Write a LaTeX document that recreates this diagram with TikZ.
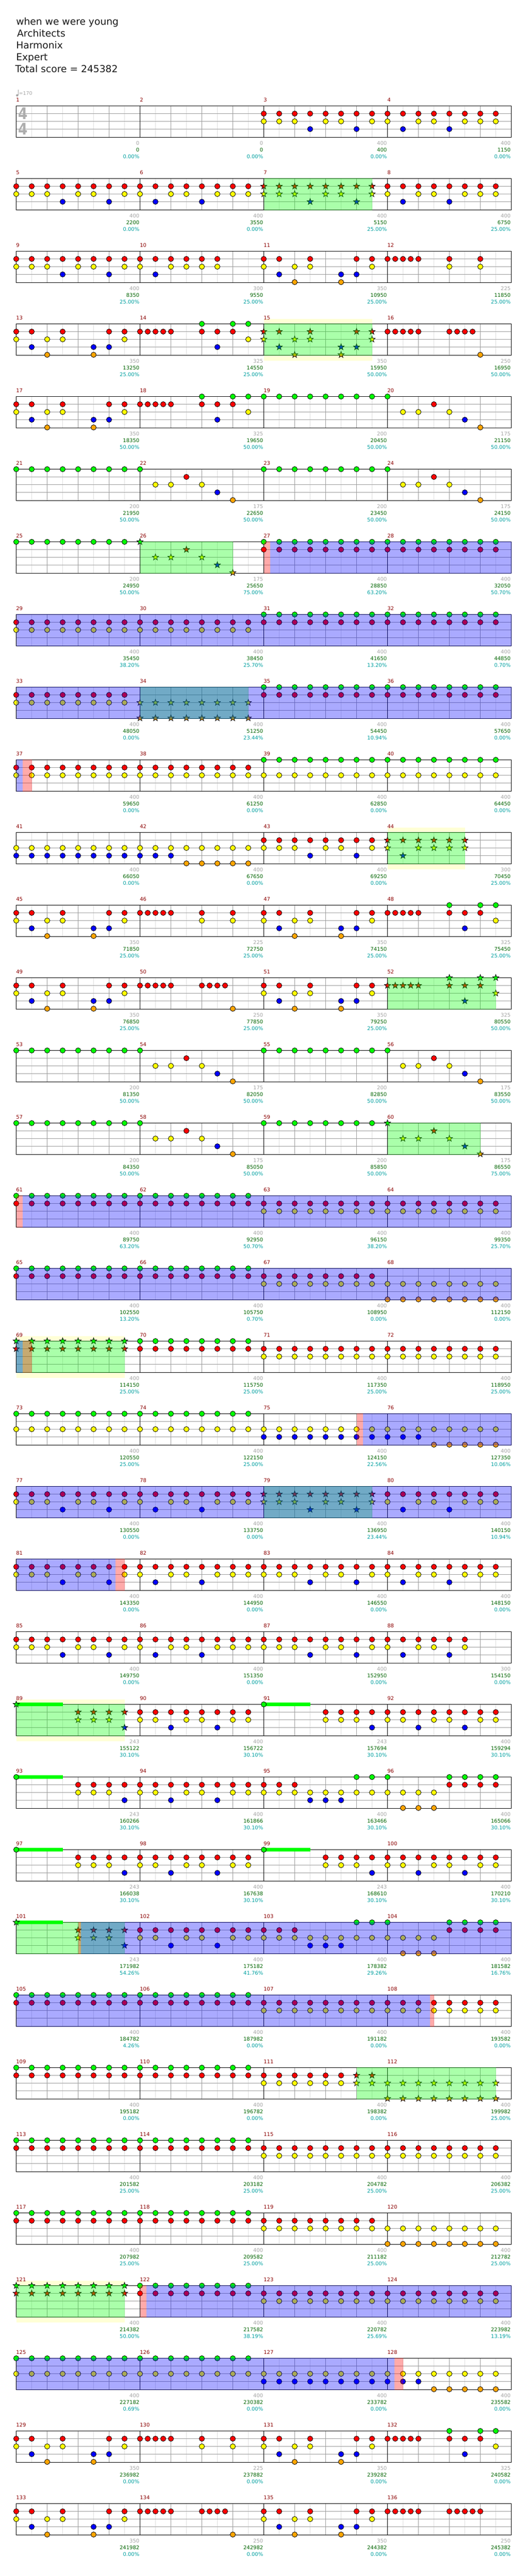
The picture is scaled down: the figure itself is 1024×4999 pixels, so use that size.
\documentclass[tikz,border=0pt]{standalone}
\usepackage{fontspec}
\setmainfont{DejaVu Sans}
\definecolor{noteG}{RGB}{0,255,0}
\definecolor{noteR}{RGB}{255,0,0}
\definecolor{noteY}{RGB}{255,255,0}
\definecolor{noteB}{RGB}{0,0,255}
\definecolor{noteO}{RGB}{255,165,0}
\definecolor{gridA}{RGB}{155,155,155}
\definecolor{gridB}{RGB}{222,222,222}
\definecolor{bandY}{RGB}{255,255,214}
\definecolor{txtM}{RGB}{139,0,0}
\definecolor{txtG}{RGB}{165,165,165}
\definecolor{txtS}{RGB}{0,100,0}
\definecolor{txtP}{RGB}{0,160,160}
\tikzset{
  titletext/.style={anchor=base west,inner sep=0,font=\fontsize{18.7}{20}\selectfont,text=black!90},
  measlabel/.style={anchor=west,inner sep=0,font=\fontsize{10}{12}\selectfont,text=txtM},
  valgray/.style={anchor=east,inner sep=0,font=\fontsize{10}{12}\selectfont,text=txtG},
  valscore/.style={anchor=east,inner sep=0,font=\fontsize{10}{12}\selectfont,text=txtS},
  valpct/.style={anchor=east,inner sep=0,font=\fontsize{10}{12}\selectfont,text=txtP},
  notemark/.style={draw=black,line width=.8pt},
  gridmajor/.style={draw=gridA,line width=1pt},
  gridminor/.style={draw=gridB,line width=1pt},
  staveframe/.style={draw=black,line width=1pt},
  overlay/.style={fill opacity=.333},
  timesig/.style={inner sep=0,xscale=.85,transform shape,font=\fontsize{31}{32}\bfseries\selectfont,text=black!32},
}
% ---- positions
\newcommand\setrow[1]{\pgfmathsetmacro\Y{205.5+141*(#1)}\def\rowk{#1}\def\off{0}}
\newcommand\band[2]{\fill[bandY] ({31.5+#1},{\Y-10}) rectangle ({31.5+#2},{\Y+71});}
\newcommand\stave{%
  \fill[white] (31.5,\Y) rectangle (991.5,{\Y+61});
  \foreach\uu in {2,6,...,62}{\draw[gridminor] ({31.5+15*\uu},\Y) -- ({31.5+15*\uu},{\Y+61});}
  \foreach\uu in {4,8,12,20,24,28,36,40,44,52,56,60}{\draw[gridmajor] ({31.5+15*\uu},\Y) -- ({31.5+15*\uu},{\Y+61});}
  \foreach\dy in {15,30,45}{\draw[gridmajor] (31.5,{\Y+\dy}) -- (991.5,{\Y+\dy});}
  \foreach\uu in {16,32,48}{\draw[draw=black,line width=1pt] ({31.5+15*\uu},\Y) -- ({31.5+15*\uu},{\Y+61});}
  \draw[staveframe] (31.5,\Y) rectangle (991.5,{\Y+61});
}
\newcommand\ov[3]{\fill[#1,overlay] ({31.5+#2},{\Y-.5}) rectangle ({31.5+#3},{\Y+61.5});}
\newcommand\susbar[1]{\fill[noteG] ({31.5+15*#1},{\Y-3.2}) rectangle ({31.5+15*#1+90},{\Y+3.2});}
\newcommand\markcirc[2]{\draw[notemark,fill=#1] #2 circle (5.1pt);}
\newcommand\markstar[2]{\draw[notemark,fill=#1,line join=miter,miter limit=3] #2 +(90:6.3pt) -- +(126:2.6pt) -- +(162:6.3pt) -- +(198:2.6pt) -- +(234:6.3pt) -- +(270:2.6pt) -- +(306:6.3pt) -- +(342:2.6pt) -- +(18:6.3pt) -- +(54:2.6pt) -- cycle;}
\let\marker\markcirc
\newcommand\cir{\let\marker\markcirc}
\newcommand\sta{\let\marker\markstar}
\newcommand\mk[3]{\foreach\uu in {#3}{\marker{#1}{({31.5+15*(\uu+\off)},{\Y+#2})}}}
\newcommand\nG[1]{\mk{noteG}{0}{#1}}
\newcommand\nR[1]{\mk{noteR}{15}{#1}}
\newcommand\nY[1]{\mk{noteY}{30}{#1}}
\newcommand\nB[1]{\mk{noteB}{45}{#1}}
\newcommand\nO[1]{\mk{noteO}{60}{#1}}
% ---- repeated figures, #1 = offset in sixteenths
\newcommand\patAa[1]{\def\off{#1}\nR{0,2,...,14}\nY{0,2,4,8,10,14}\nB{6,12}\def\off{0}}
\newcommand\patAb[1]{\def\off{#1}\nR{0,2,...,14}\nY{0,4,6,10,12,14}\nB{2,8}\def\off{0}}
\newcommand\patA[1]{\patAa{#1}\pgfmathtruncatemacro\tmpo{#1+16}\patAb{\tmpo}}
\newcommand\patB[1]{\def\off{#1}\nR{0,2,6,12,14}\nY{0,4,6,14}\nB{2,10,12}\nO{4,10}\def\off{0}}
\newcommand\patC[1]{\def\off{#1}\nY{2,4,8}\nR{6}\nB{10}\nO{12}\def\off{0}}
\newcommand\patD[1]{\def\off{#1}\nR{0,1,2,3,4,8,10,12}\nG{8,12,14}\nY{14}\nB{10}\def\off{0}}
\newcommand\patE[1]{\def\off{#1}\nR{0,1,2,3,4,8,12}\nY{8,12}\def\off{0}}
\newcommand\patF[1]{\def\off{#1}\nR{0,1,2,3,4,8,9,10,11}\nO{12}\def\off{0}}
% ---- texts of one measure: column, grey, score, percent
\newcommand\Val[4]{%
  \pgfmathtruncatemacro\mnum{4*\rowk+#1+1}%
  \node[measlabel] (m\mnum) at ({31.1+240*#1},{\Y-11.3}) {\mnum};
  \node[valgray] (g\mnum) at ({31.5+240*(#1+1)-1},{\Y+72.3}) {#2};
  \node[valscore] (s\mnum) at ({31.5+240*(#1+1)-1},{\Y+85.3}) {#3};
  \node[valpct] (p\mnum) at ({31.5+240*(#1+1)-1},{\Y+98.3}) {#4\%};
}
\begin{document}
\begin{tikzpicture}[x=1pt,y=-1pt]
\useasboundingbox (0,0) rectangle (1024,4999);
\fill[white] (0,0) rectangle (1024,4999);
% title
\node[titletext] (t1) at (31.1,49) {when we were young};
\node[titletext] (t2) at (33,72) {Architects};
\node[titletext] (t3) at (31.1,95) {Harmonix};
\node[titletext] (t4) at (31.1,118) {Expert};
\node[titletext] (t5) at (29.5,141) {Total score = 245382};
% tempo
\fill[txtG] (33.3,185) circle (2.2pt);
\draw[txtG,line width=.8pt] (35,185) -- (35,174.5);
\node[anchor=west,inner sep=0,font=\fontsize{9.5}{12}\selectfont,text=txtG] (tempo) at (36.5,181) {=170};

% row 0
\setrow{0}\stave
\node[timesig] (ts1) at (44.5,220.5) {4};
\node[timesig] (ts2) at (44.5,250.5) {4};
\patA{32}
\Val{0}{0}{0}{0.00}\Val{1}{0}{0}{0.00}\Val{2}{400}{400}{0.00}\Val{3}{400}{1150}{0.00}
% row 1
\setrow{1}\stave
\patA{0}\sta\patAa{32}\cir\patAb{48}
\ov{noteG}{480}{690}
\Val{0}{400}{2200}{0.00}\Val{1}{400}{3550}{0.00}\Val{2}{400}{5150}{25.00}\Val{3}{400}{6750}{25.00}
% row 2
\setrow{2}\stave
\patAa{0}\def\off{16}\nR{0,2,4,6,8,10}\nY{0,4,6,8,10}\nB{2}\def\off{0}\patB{32}\def\off{48}\nR{0,1,2,3,4,8,12}\nY{8,12}\def\off{0}
\Val{0}{400}{8350}{25.00}\Val{1}{300}{9550}{25.00}\Val{2}{350}{10950}{25.00}\Val{3}{225}{11850}{25.00}
% row 3
\setrow{3}\band{480}{690}\stave
\patB{0}\patD{16}\sta\patB{32}\cir
\def\off{48}\nR{0,1,2,3,4,8,9,10,11}\nO{12}\def\off{0}
\ov{noteG}{480}{690}
\Val{0}{350}{13250}{25.00}\Val{1}{325}{14550}{25.00}\Val{2}{350}{15950}{50.00}\Val{3}{250}{16950}{50.00}
% row 4
\setrow{4}\stave
\patB{0}\patD{16}\nG{32,34,...,48}\patC{48}
\Val{0}{350}{18350}{50.00}\Val{1}{325}{19650}{50.00}\Val{2}{200}{20450}{50.00}\Val{3}{175}{21150}{50.00}
% row 5
\setrow{5}\stave
\nG{0,2,...,16}\patC{16}\nG{32,34,...,48}\patC{48}
\Val{0}{200}{21950}{50.00}\Val{1}{175}{22650}{50.00}\Val{2}{200}{23450}{50.00}\Val{3}{175}{24150}{50.00}
% row 6
\setrow{6}\stave
\nG{0,2,...,14}\sta\nG{16}\patC{16}\cir\nG{32,34,...,62}\nR{32,34,...,62}
\ov{noteG}{240}{420}\ov{noteR}{480}{492.5}\ov{noteB}{492.5}{960}
\Val{0}{200}{24950}{50.00}\Val{1}{175}{25650}{75.00}\Val{2}{400}{28850}{63.20}\Val{3}{400}{32050}{50.70}
% row 7
\setrow{7}\stave
\nR{0,2,...,62}\nY{0,2,...,30}\nG{32,34,...,62}
\ov{noteB}{0}{960}
\Val{0}{400}{35450}{38.20}\Val{1}{400}{38450}{25.70}\Val{2}{400}{41650}{13.20}\Val{3}{400}{44850}{0.70}
% row 8
\setrow{8}\stave
\nR{0,2,...,14}\nY{0,2,...,14}\sta\nY{16,18,...,30}\nO{16,18,...,30}\cir\nG{32,34,...,62}\nR{32,34,...,62}
\ov{noteG}{240}{450}\ov{noteB}{0}{960}
\Val{0}{400}{48050}{0.00}\Val{1}{400}{51250}{23.44}\Val{2}{400}{54450}{10.94}\Val{3}{400}{57650}{0.00}
% row 9
\setrow{9}\stave
\nR{0,2,...,30}\nY{0,2,...,62}\nG{32,34,...,62}
\ov{noteB}{0}{12.5}\ov{noteR}{12.5}{30}
\Val{0}{400}{59650}{0.00}\Val{1}{400}{61250}{0.00}\Val{2}{400}{62850}{0.00}\Val{3}{400}{64450}{0.00}
% row 10
\setrow{10}\band{720}{870}\stave
\nY{0,2,...,30}\nB{0,2,...,20}\nO{22,24,...,30}\patAa{32}
\sta\nR{48,50,...,58}\nY{48,52,54,56,58}\nB{50}\cir
\ov{noteG}{720}{870}
\Val{0}{400}{66050}{0.00}\Val{1}{400}{67650}{0.00}\Val{2}{400}{69250}{0.00}\Val{3}{300}{70450}{25.00}
% row 11
\setrow{11}\stave
\patB{0}\patE{16}\patB{32}\patD{48}
\Val{0}{350}{71850}{25.00}\Val{1}{225}{72750}{25.00}\Val{2}{350}{74150}{25.00}\Val{3}{325}{75450}{25.00}
% row 12
\setrow{12}\stave
\patB{0}\patF{16}\patB{32}\sta\patD{48}\cir
\ov{noteG}{720}{930}
\Val{0}{350}{76850}{25.00}\Val{1}{250}{77850}{25.00}\Val{2}{350}{79250}{25.00}\Val{3}{325}{80550}{50.00}
% row 13
\setrow{13}\stave
\nG{0,2,...,16}\patC{16}\nG{32,34,...,48}\patC{48}
\Val{0}{200}{81350}{50.00}\Val{1}{175}{82050}{50.00}\Val{2}{200}{82850}{50.00}\Val{3}{175}{83550}{50.00}
% row 14
\setrow{14}\stave
\nG{0,2,...,16}\patC{16}\nG{32,34,...,46}\sta\nG{48}\patC{48}\cir
\ov{noteG}{720}{900}
\Val{0}{200}{84350}{50.00}\Val{1}{175}{85050}{50.00}\Val{2}{200}{85850}{50.00}\Val{3}{175}{86550}{75.00}
% row 15
\setrow{15}\stave
\nG{0,2,...,30}\nR{0,2,...,62}\nY{32,34,...,62}
\ov{noteR}{0}{12.5}\ov{noteB}{12.5}{960}
\Val{0}{400}{89750}{63.20}\Val{1}{400}{92950}{50.70}\Val{2}{400}{96150}{38.20}\Val{3}{400}{99350}{25.70}
% row 16
\setrow{16}\stave
\nG{0,2,...,30}\nR{0,2,...,46}\nY{32,34,...,62}\nO{48,50,...,62}
\ov{noteB}{0}{960}
\Val{0}{400}{102550}{13.20}\Val{1}{400}{105750}{0.70}\Val{2}{400}{108950}{0.00}\Val{3}{400}{112150}{0.00}
% row 17
\setrow{17}\band{0}{210}\stave
\sta\nG{0,2,...,14}\nR{0,2,...,14}\cir\nG{16,18,...,30}\nR{16,18,...,62}\nY{32,34,...,62}
\ov{noteG}{0}{210}\ov{noteB}{0}{12.5}\ov{noteR}{12.5}{30}
\Val{0}{400}{114150}{25.00}\Val{1}{400}{115750}{25.00}\Val{2}{400}{117350}{25.00}\Val{3}{400}{118950}{25.00}
% row 18
\setrow{18}\stave
\nG{0,2,...,30}\nY{0,2,...,62}\nB{32,34,...,52}\nO{54,56,...,62}
\ov{noteR}{660}{672.5}\ov{noteB}{672.5}{960}
\Val{0}{400}{120550}{25.00}\Val{1}{400}{122150}{25.00}\Val{2}{400}{124150}{22.56}\Val{3}{400}{127350}{10.06}
% row 19
\setrow{19}\stave
\patA{0}\sta\patAa{32}\cir\patAb{48}
\ov{noteG}{480}{690}\ov{noteB}{0}{960}
\Val{0}{400}{130550}{0.00}\Val{1}{400}{133750}{0.00}\Val{2}{400}{136950}{23.44}\Val{3}{400}{140150}{10.94}
% row 20
\setrow{20}\stave
\patA{0}\patA{32}
\ov{noteB}{0}{192.5}\ov{noteR}{192.5}{210}
\Val{0}{400}{143350}{0.00}\Val{1}{400}{144950}{0.00}\Val{2}{400}{146550}{0.00}\Val{3}{400}{148150}{0.00}
% row 21
\setrow{21}\stave
\patA{0}\patAa{32}\def\off{48}\nR{0,2,...,10}\nY{0,4,6,10}\nB{2,8}\def\off{0}
\Val{0}{400}{149750}{0.00}\Val{1}{400}{151350}{0.00}\Val{2}{400}{152950}{0.00}\Val{3}{300}{154150}{0.00}
% row 22
\setrow{22}\band{0}{210}\stave
\susbar{0}\susbar{32}
\sta\nG{0}\nR{8,10,12,14}\nY{8,10,12}\nB{14}\cir
\nR{16,18,...,30}\nY{16,18,22,24,28,30}\nB{20,26}
\nG{32}\nR{40,42,...,62}\nY{40,42,44,48,50,54,56,60,62}\nB{46,52,58}
\ov{noteG}{0}{210}
\Val{0}{243}{155122}{30.10}\Val{1}{400}{156722}{30.10}\Val{2}{243}{157694}{30.10}\Val{3}{400}{159294}{30.10}
% row 23
\setrow{23}\stave
\susbar{0}\nG{0}\nR{8,10,...,36}\nY{8,10,12,16,18,22,24,28,30,32,34,...,54}\nB{14,20,26,38,40,42}
\nG{44,46,48,56,58,60,62}\nR{56,58,60,62}\nO{50,52,54}
\Val{0}{243}{160266}{30.10}\Val{1}{400}{161866}{30.10}\Val{2}{400}{163466}{30.10}\Val{3}{400}{165066}{30.10}
% row 24
\setrow{24}\stave
\susbar{0}\susbar{32}\nG{0}\nR{8,10,...,30}\nY{8,10,12,16,18,22,24,28,30}\nB{14,20,26}
\nG{32}\nR{40,42,...,62}\nY{40,42,44,48,50,54,56,60,62}\nB{46,52,58}
\Val{0}{243}{166038}{30.10}\Val{1}{400}{167638}{30.10}\Val{2}{243}{168610}{30.10}\Val{3}{400}{170210}{30.10}
% row 25
\setrow{25}\stave
\susbar{0}\sta\nG{0}\nR{8,10,12,14}\nY{8,10,12}\nB{14}\cir
\nR{16,18,...,36}\nY{16,18,22,24,28,30,32,34,...,54}\nB{20,26,38,40,42}
\nG{44,46,48,56,58,60,62}\nR{56,58,60,62}\nO{50,52,54}
\ov{noteG}{0}{210}\ov{noteR}{120}{125}\ov{noteB}{125}{960}
\Val{0}{243}{171982}{54.26}\Val{1}{400}{175182}{41.76}\Val{2}{400}{178382}{29.26}\Val{3}{400}{181582}{16.76}
% row 26
\setrow{26}\stave
\nG{0,2,...,30}\nR{0,2,...,62}\nY{32,34,...,62}
\ov{noteB}{0}{802.5}\ov{noteR}{802.5}{810}
\Val{0}{400}{184782}{4.26}\Val{1}{400}{187982}{0.00}\Val{2}{400}{191182}{0.00}\Val{3}{400}{193582}{0.00}
% row 27
\setrow{27}\stave
\nG{0,2,...,30}\nR{0,2,...,42}\nY{32,34,...,42}
\sta\nR{44,46}\nY{44,46,...,62}\nO{48,50,...,62}\cir
\ov{noteG}{660}{930}
\Val{0}{400}{195182}{0.00}\Val{1}{400}{196782}{0.00}\Val{2}{400}{198382}{0.00}\Val{3}{400}{199982}{25.00}
% row 28
\setrow{28}\stave
\nG{0,2,...,30}\nR{0,2,...,62}\nY{32,34,...,62}
\Val{0}{400}{201582}{25.00}\Val{1}{400}{203182}{25.00}\Val{2}{400}{204782}{25.00}\Val{3}{400}{206382}{25.00}
% row 29
\setrow{29}\stave
\nG{0,2,...,30}\nR{0,2,...,46}\nY{32,34,...,62}\nO{48,50,...,62}
\Val{0}{400}{207982}{25.00}\Val{1}{400}{209582}{25.00}\Val{2}{400}{211182}{25.00}\Val{3}{400}{212782}{25.00}
% row 30
\setrow{30}\band{0}{210}\stave
\sta\nG{0,2,...,14}\nR{0,2,...,14}\cir\nG{16,18,...,30}\nR{16,18,...,62}\nY{32,34,...,62}
\ov{noteG}{0}{210}\ov{noteR}{240}{252.5}\ov{noteB}{252.5}{960}
\Val{0}{400}{214382}{50.00}\Val{1}{400}{217582}{38.19}\Val{2}{400}{220782}{25.69}\Val{3}{400}{223982}{13.19}
% row 31
\setrow{31}\stave
\nG{0,2,...,30}\nY{0,2,...,62}\nB{32,34,...,52}\nO{54,56,...,62}
\ov{noteB}{0}{733}\ov{noteR}{733}{750}
\Val{0}{400}{227182}{0.69}\Val{1}{400}{230382}{0.00}\Val{2}{400}{233782}{0.00}\Val{3}{400}{235582}{0.00}
% row 32
\setrow{32}\stave
\patB{0}\patE{16}\patB{32}\patD{48}
\Val{0}{350}{236982}{0.00}\Val{1}{225}{237882}{0.00}\Val{2}{350}{239282}{0.00}\Val{3}{325}{240582}{0.00}
% row 33
\setrow{33}\stave
\patB{0}\patF{16}\patB{32}\def\off{48}\nR{0,1,2,3,4,8,9,10,11,12}\def\off{0}
\Val{0}{350}{241982}{0.00}\Val{1}{250}{242982}{0.00}\Val{2}{350}{244382}{0.00}\Val{3}{250}{245382}{0.00}
\end{tikzpicture}
\end{document}
